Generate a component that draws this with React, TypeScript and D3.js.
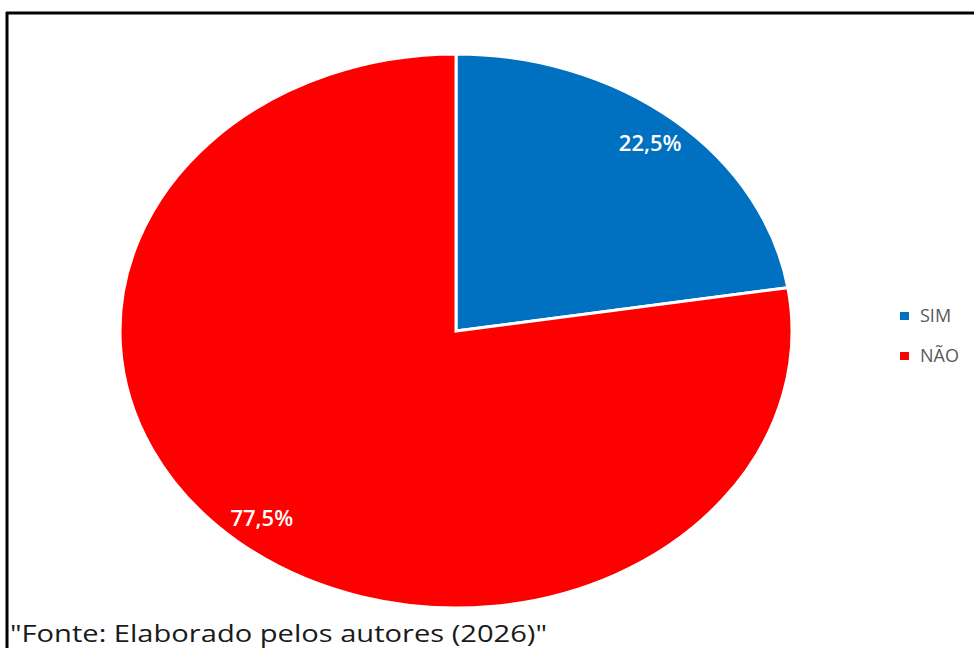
import React from 'react';
import * as d3 from 'd3';

// chart data
const categories = ['SIM', 'NÃO'];
const values = [22.5, 77.5];
const colors = ['#0070C0', '#FF0000'];
const source = '"Fonte: Elaborado pelos autores (2026)"';

const width = 974;
const height = 648;

const App = () => {
  // the pie is drawn as a stretched ellipse, like the original
  const cx = 456;
  const cy = 331;
  const ry = 277;
  const rx = 336;
  const sx = rx / ry;

  const pie = d3
    .pie<number>()
    .value((d) => d)
    .sort(null);
  const arcs = pie(values);

  const arc = d3.arc<d3.PieArcDatum<number>>().innerRadius(0).outerRadius(ry);
  const labelArc = d3
    .arc<d3.PieArcDatum<number>>()
    .innerRadius(ry * 0.89)
    .outerRadius(ry * 0.89);

  const fmt = (v: number) => d3.format('.1f')(v).replace('.', ',') + '%';

  return (
    <svg
      width={width}
      height={height}
      style={{ position: 'absolute', left: 0, top: 0, background: '#fff' }}
    >
      {/* frame */}
      <line x1={6} y1={13} x2={width} y2={13} stroke="#000" strokeWidth={3} />
      <line x1={7} y1={12} x2={7} y2={height} stroke="#000" strokeWidth={3} />

      <g transform={`translate(${cx}, ${cy}) scale(${sx}, 1)`}>
        {arcs.map((d, i) => (
          <path
            key={categories[i]}
            d={arc(d) || ''}
            fill={colors[i]}
            stroke="#fff"
            strokeWidth={3}
            vectorEffect="non-scaling-stroke"
          />
        ))}
      </g>

      {arcs.map((d, i) => {
        const [lx, ly] = labelArc.centroid(d);
        return (
          <text
            key={'l' + i}
            x={cx + lx * sx}
            y={cy + ly}
            dy="0.35em"
            textAnchor="middle"
            fill="#fff"
            fontFamily="'Open Sans', sans-serif"
            fontWeight={600}
            fontSize={22}
          >
            {fmt(values[i])}
          </text>
        );
      })}

      {/* legend */}
      {categories.map((c, i) => (
        <g key={'lg' + c} transform={`translate(900, ${316 + i * 40})`}>
          <rect x={0} y={-4} width={9} height={8} fill={colors[i]} />
          <text
            x={20}
            y={0}
            dy="0.35em"
            fill="#595959"
            fontFamily="'Open Sans', sans-serif"
            fontSize={18}
          >
            {c}
          </text>
        </g>
      ))}

      <text
        x={10}
        y={642}
        fill="#1a1a1a"
        fontFamily="'Open Sans', sans-serif"
        fontSize={23}
        textLength={537}
        lengthAdjust="spacingAndGlyphs"
      >
        {source}
      </text>
    </svg>
  );
};

export default App;
